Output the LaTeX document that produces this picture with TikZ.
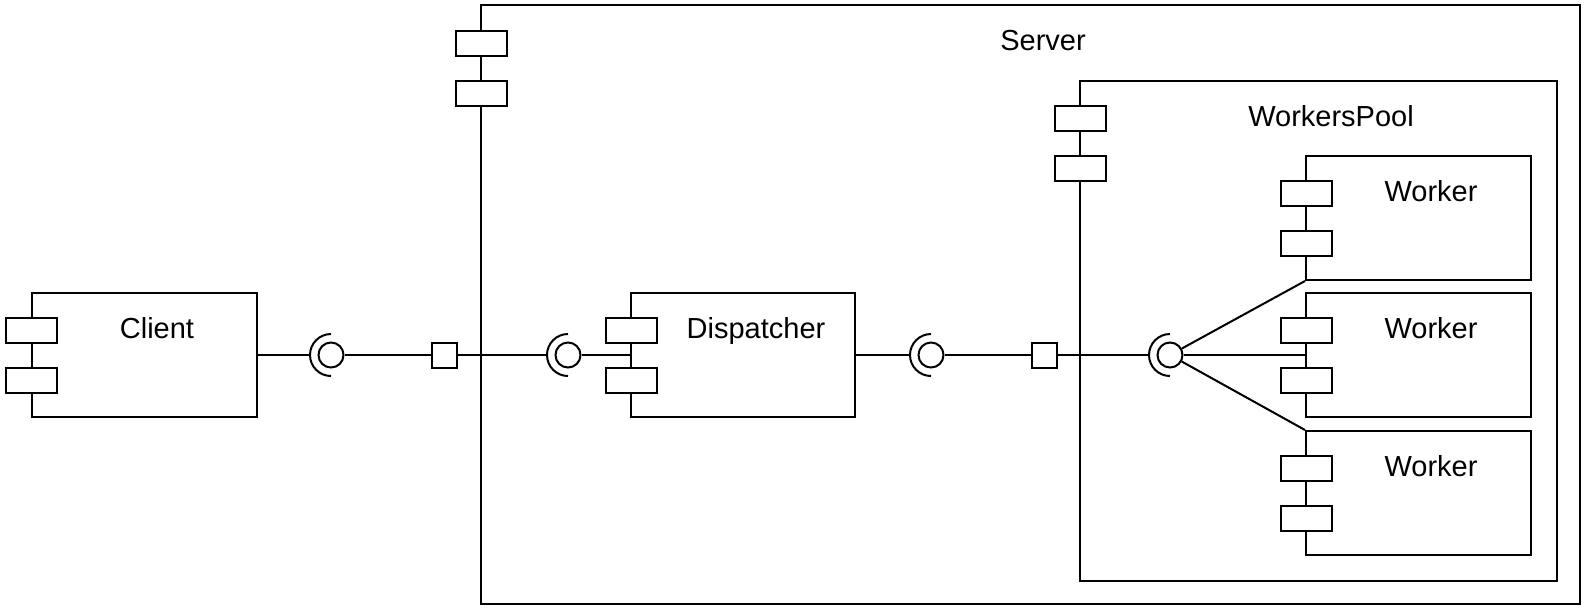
\documentclass[tikz,border=0pt]{standalone}
\usepackage{fontspec}
\setmainfont{Liberation Sans}
\begin{document}
\begin{tikzpicture}[x=0.5pt,y=-0.5pt,line width=1pt,
	comp/.style={shape=rectangle,draw=black,fill=white,inner sep=0pt},
	port/.style={shape=rectangle,draw=black,fill=white,inner sep=0pt,minimum width=25.5pt,minimum height=12.5pt},
	pin/.style={shape=rectangle,draw=black,fill=white,inner sep=0pt,minimum size=12.5pt},
	ball/.style={shape=circle,draw=black,fill=white,inner sep=0pt,minimum size=12.5pt},
	cup/.style={shape=circle,inner sep=0pt,outer sep=0pt,minimum size=21pt},
	title/.style={anchor=base,inner sep=0pt,font=\fontsize{14.5}{17}\selectfont}]
	\useasboundingbox (0,0) rectangle (1589,612);

	% components
	\node[comp,minimum width=549.5pt,minimum height=299.5pt] (server) at (1030.5,304.5) {};
	\node[comp,minimum width=238.5pt,minimum height=250pt] (pool) at (1318.5,331) {};
	\node[comp,minimum width=112.5pt,minimum height=62pt] (w1) at (1418.5,218) {};
	\node[comp,minimum width=112.5pt,minimum height=62pt] (w2) at (1418.5,355) {};
	\node[comp,minimum width=112.5pt,minimum height=62pt] (w3) at (1418.5,493) {};
	\node[comp,minimum width=112.75pt,minimum height=62pt] (client) at (144.25,355) {};
	\node[comp,minimum width=112pt,minimum height=62pt] (disp) at (743,355) {};

	\node[title] (tserver) at (1043,50.5) {Server};
	\node[title] (tpool) at (1331,126.5) {WorkersPool};
	\node[title] (tw1) at (1431,201.5) {Worker};
	\node[title] (tw2) at (1431,338.5) {Worker};
	\node[title] (tw3) at (1431,476.5) {Worker};
	\node[title] (tclient) at (157,338.5) {Client};
	\node[title] (tdisp) at (756,338.5) {Dispatcher};

	% sockets
	\node[cup] (c1) at (331,355) {};
	\node[cup] (c2) at (568,355) {};
	\node[cup] (c3) at (931,355) {};
	\node[cup] (c4) at (1170,355) {};
	\draw (c1.north) arc (90:270:10.5pt);
	\draw (c2.north) arc (90:270:10.5pt);
	\draw (c3.north) arc (90:270:10.5pt);
	\draw (c4.north) arc (90:270:10.5pt);

	\node[ball] (b1) at (c1) {};
	\node[ball] (b2) at (c2) {};
	\node[ball] (b3) at (c3) {};
	\node[ball] (b4) at (c4) {};
	\node[pin] (p1) at (444,355) {};
	\node[pin] (p2) at (1044,355) {};

	% connectors
	\draw (client.east) -- (c1.west);
	\draw (b1) -- (p1);
	\draw (p1) -- (c2.west);
	\draw (b2) -- (disp.west);
	\draw (disp.east) -- (c3.west);
	\draw (b3) -- (p2);
	\draw (p2) -- (c4.west);
	\draw (b4) -- (w1.south west);
	\draw (b4) -- (w2.west);
	\draw (b4) -- (w3.north west);

	% ports
	\node[port] (sp1) at (481,43) {};
	\node[port] (sp2) at (481,93) {};
	\node[port] (pp1) at (1080,118) {};
	\node[port] (pp2) at (1080,168) {};
	\node[port] (w1p1) at (1306,193) {};
	\node[port] (w1p2) at (1306,243) {};
	\node[port] (w2p1) at (1306,330) {};
	\node[port] (w2p2) at (1306,380) {};
	\node[port] (w3p1) at (1306,468) {};
	\node[port] (w3p2) at (1306,518) {};
	\node[port] (cp1) at (31.5,330) {};
	\node[port] (cp2) at (31.5,380) {};
	\node[port] (dp1) at (631,330) {};
	\node[port] (dp2) at (631,380) {};
\end{tikzpicture}
\end{document}
